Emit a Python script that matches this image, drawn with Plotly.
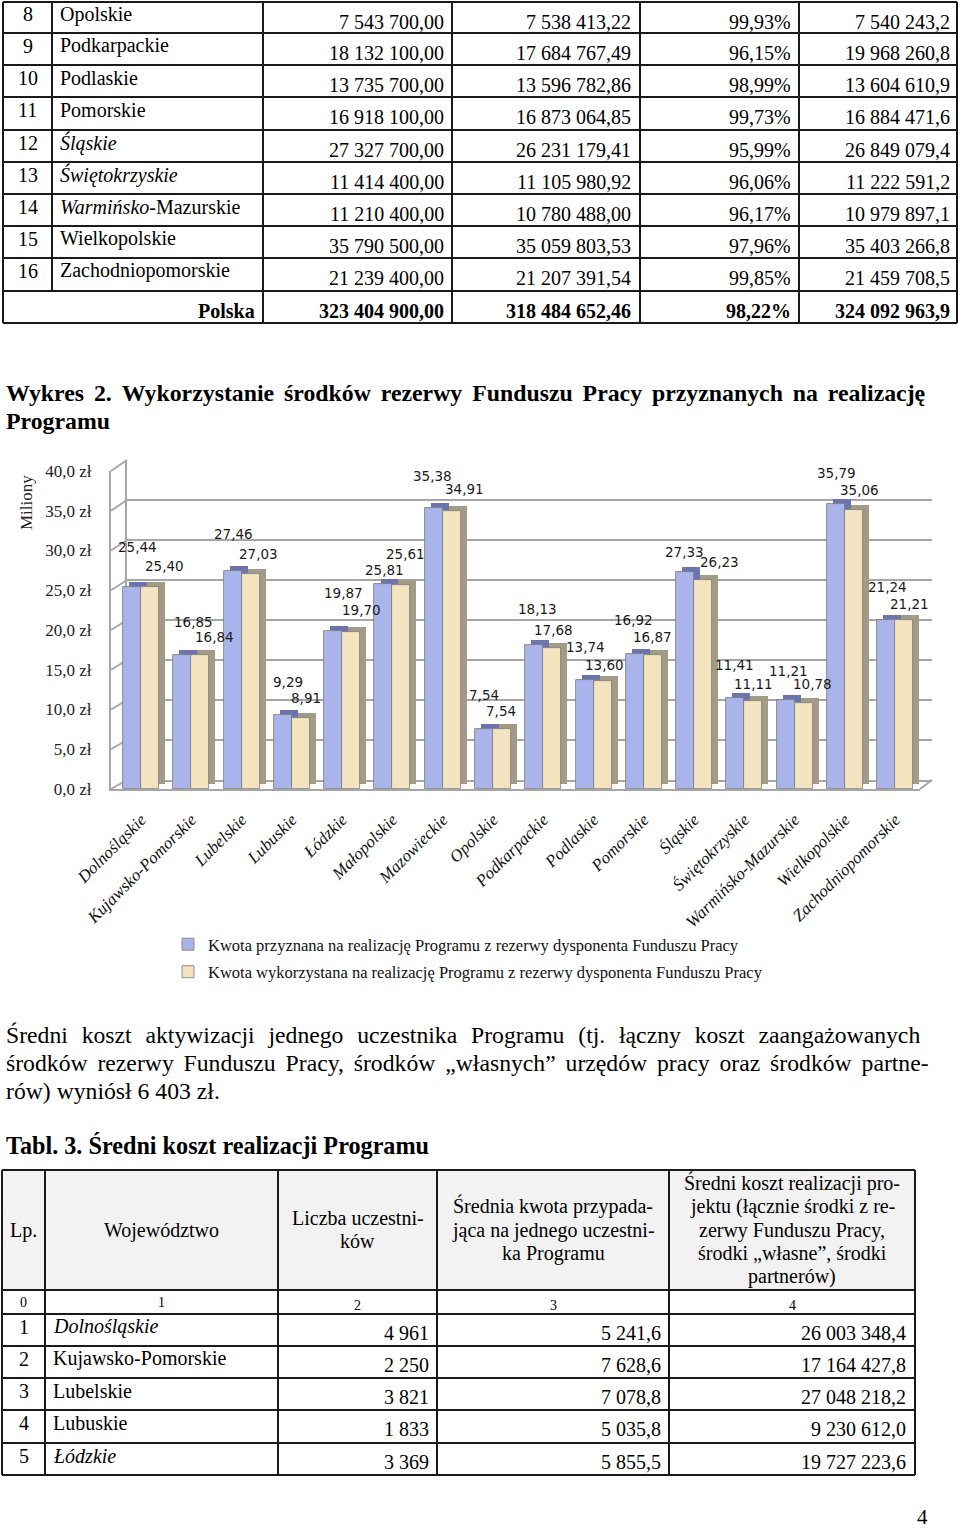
import plotly.graph_objects as go

W, H = 960, 1532
SERIF = "Liberation Serif"
SANS = "DejaVu Sans"

# ---------------- chart data (millions PLN) ----------------
REGIONS = ["Dolnośląskie", "Kujawsko-Pomorskie", "Lubelskie", "Lubuskie", "Łódzkie",
           "Małopolskie", "Mazowieckie", "Opolskie", "Podkarpackie", "Podlaskie",
           "Pomorskie", "Śląskie", "Świętokrzyskie", "Warmińsko-Mazurskie",
           "Wielkopolskie", "Zachodniopomorskie"]
GRANTED = [25.44, 16.85, 27.46, 9.29, 19.87, 25.81, 35.38, 7.54, 18.13, 13.74,
           16.92, 27.33, 11.41, 11.21, 35.79, 21.24]
USED = [25.40, 16.84, 27.03, 8.91, 19.70, 25.61, 34.91, 7.54, 17.68, 13.60,
        16.87, 26.23, 11.11, 10.78, 35.06, 21.21]
Y_TICKS = [0, 5, 10, 15, 20, 25, 30, 35, 40]
SERIES_NAMES = ["Kwota przyznana na realizację Programu z rezerwy dysponenta Funduszu Pracy",
                "Kwota wykorzystana na realizację Programu z rezerwy dysponenta Funduszu Pracy"]

# ---------------- upper table ----------------
TOP_LP = ["8", "9", "10", "11", "12", "13", "14", "15", "16"]
TOP_NAMES = ["Opolskie", "Podkarpackie", "Podlaskie", "Pomorskie", "Śląskie",
             "Świętokrzyskie", "Warmińsko-Mazurskie", "Wielkopolskie", "Zachodniopomorskie"]
TOP_GRANTED = ["7 543 700,00", "18 132 100,00", "13 735 700,00", "16 918 100,00",
               "27 327 700,00", "11 414 400,00", "11 210 400,00", "35 790 500,00",
               "21 239 400,00"]
TOP_USED = ["7 538 413,22", "17 684 767,49", "13 596 782,86", "16 873 064,85",
            "26 231 179,41", "11 105 980,92", "10 780 488,00", "35 059 803,53",
            "21 207 391,54"]
TOP_PCT = ["99,93%", "96,15%", "98,99%", "99,73%", "95,99%", "96,06%", "96,17%",
           "97,96%", "99,85%"]
TOP_TOTAL = ["7 540 243,2", "19 968 260,8", "13 604 610,9", "16 884 471,6",
             "26 849 079,4", "11 222 591,2", "10 979 897,1", "35 403 266,8",
             "21 459 708,5"]
TOP_SUM = ["Polska", "323 404 900,00", "318 484 652,46", "98,22%", "324 092 963,9"]

# ---------------- lower table ----------------
BOT_LP = ["1", "2", "3", "4", "5"]
BOT_NAMES = ["Dolnośląskie", "Kujawsko-Pomorskie", "Lubelskie", "Lubuskie", "Łódzkie"]
BOT_PART = ["4 961", "2 250", "3 821", "1 833", "3 369"]
BOT_AVG = ["5 241,6", "7 628,6", "7 078,8", "5 035,8", "5 855,5"]
BOT_COST = ["26 003 348,4", "17 164 427,8", "27 048 218,2", "9 230 612,0", "19 727 223,6"]
BOT_COLNUM = ["0", "1", "2", "3", "4"]

# ---------------- text ----------------
TITLE_LINES = ["Wykres 2. Wykorzystanie środków rezerwy Funduszu Pracy przyznanych na realizację",
               "Programu"]
PARA_LINES = ["Średni koszt aktywizacji jednego uczestnika Programu (tj. łączny koszt zaangażowanych",
              "środków rezerwy Funduszu Pracy, środków „własnych” urzędów pracy oraz środków partne-",
              "rów) wyniósł 6 403 zł."]
TABLE3_TITLE = "Tabl. 3. Średni koszt realizacji Programu"
PAGE_NUMBER = "4"

# ---------------- styles / layout helpers ----------------
ITALIC_MARKUP = {"Śląskie": "<i>Śląskie</i>", "Świętokrzyskie": "<i>Świętokrzyskie</i>",
                 "Warmińsko-Mazurskie": "<i>Warmińsko</i>-Mazurskie",
                 "Dolnośląskie": "<i>Dolnośląskie</i>", "Łódzkie": "<i>Łódzkie</i>"}
# extra inter-word spacing emulating the justified lines of the page
J1 = " \u2006"
J2 = " \u2006\u2006"
TITLE_GAPS = [J1, ""]
PARA_GAPS = [J2, J1, ""]

# data label offsets (px) relative to bar top / group center
BLUE_DX = [-4, 2, -8, -4, 1, -8, -10, -9, -6, -8, -10, -10, -10, -6, -8, -8]
BLUE_DY = [40, 33, 37, 33, 38, 14, 32, 34, 36, 33, 34, 20, 33, 29, 31, 33]
CREAM_DX = [23, 23, 17, 14, 19, 13, 22, 8, 10, 11, 9, 25, 9, 18, 15, 14]
CREAM_DY = [21, 18, 20, 20, 22, 31, 22, 18, 18, 16, 18, 18, 17, 19, 20, 16]

BAR_W = 0.358
DEPTH_DX = 0.12
DEPTH_DY = 0.63
GRID = "#a6a6a6"

annotations = []
shapes = []


def px(x):
    return x / W


def py(y):
    return 1 - y / H


def spaced(s, gap):
    return gap.join(s.split(" ")) if gap else s


def text(x, y, s, size=20, xanchor="left", family=SERIF, color="black"):
    annotations.append(dict(xref="paper", yref="paper", x=px(x), y=py(y), text=s,
                            showarrow=False, xanchor=xanchor, yanchor="middle",
                            borderpad=0,
                            font=dict(family=family, size=size, color=color)))


def line(x0, y0, x1, y1, color="#1a1a1a", width=2, layer="above"):
    shapes.append(dict(type="line", xref="paper", yref="paper", x0=px(x0), y0=py(y0),
                       x1=px(x1), y1=py(y1), line=dict(color=color, width=width),
                       layer=layer))


# ================= upper table =================
ROW_Y = [2, 33, 65, 97, 130, 162, 194, 226, 258, 291, 323]
COL_X = [3, 52, 263, 452, 640, 799, 957]
for y in ROW_Y:
    line(COL_X[0], y, COL_X[-1], y)
for i, x in enumerate(COL_X):
    line(x, ROW_Y[0], x, ROW_Y[-2] if i == 1 else ROW_Y[-1])
for r in range(len(TOP_LP)):
    t = ROW_Y[r]
    text(27.5, t + 12.5, TOP_LP[r], xanchor="center")
    text(59, t + 12.5, ITALIC_MARKUP.get(TOP_NAMES[r], TOP_NAMES[r]))
    for col, vals in zip([445, 632, 792, 951], [TOP_GRANTED, TOP_USED, TOP_PCT, TOP_TOTAL]):
        text(col, t + 19.5, vals[r], xanchor="right")
t = ROW_Y[-2]
for col, s in zip([256, 445, 632, 792, 951], TOP_SUM):
    text(col, t + 20, "<b>" + s + "</b>", xanchor="right")

# ================= titles / paragraph =================
for s, g, y in zip(TITLE_LINES, TITLE_GAPS, [393, 421]):
    text(5, y, "<b>" + spaced(s, g) + "</b>", size=23.8)
for s, g, y in zip(PARA_LINES, PARA_GAPS, [1035, 1063, 1091]):
    text(5, y, spaced(s, g), size=23.7)
text(5, 1145, "<b>" + TABLE3_TITLE + "</b>", size=24.2)
text(922, 1517, PAGE_NUMBER, size=21, xanchor="center")

# ================= lower table =================
COLB = [2, 45, 278, 437, 669, 915]
ROWB = [1170, 1290, 1314, 1346, 1378, 1410, 1443, 1475]
shapes.append(dict(type="rect", xref="paper", yref="paper", x0=px(COLB[0]), x1=px(COLB[-1]),
                   y0=py(ROWB[0]), y1=py(ROWB[1]), fillcolor="#f2f2f2", line=dict(width=0),
                   layer="below"))
for y in ROWB:
    line(COLB[0], y, COLB[-1], y)
for x in COLB:
    line(x, ROWB[0], x, ROWB[-1])
text(23.5, 1230, "Lp.", xanchor="center")
text(161.5, 1230, "Województwo", xanchor="center")
for s, y in zip(["Liczba uczestni-", "ków"], [1218, 1241]):
    text(357.5, y, s, xanchor="center")
for s, y in zip(["Średnia kwota przypada-", "jąca na jednego uczestni-", "ka Programu"],
                [1206, 1230, 1253]):
    text(553, y, s, xanchor="center")
for s, y in zip(["Średni koszt realizacji pro-", "jektu (łącznie środki z re-",
                 "zerwy Funduszu Pracy,", "środki „własne”, środki", "partnerów)"],
                [1183, 1206, 1230, 1253, 1276]):
    text(792, y, s, xanchor="center")
for s, x, y in zip(BOT_COLNUM, [23.5, 161.5, 357.5, 553, 792], [1302, 1302, 1305, 1305, 1305]):
    text(x, y, s, size=14, xanchor="center")
for r in range(len(BOT_LP)):
    t = ROWB[2 + r]
    text(23.5, t + 12.5, BOT_LP[r], xanchor="center")
    text(52, t + 12.5, ITALIC_MARKUP.get(BOT_NAMES[r], BOT_NAMES[r]))
    for col, vals in zip([430, 662, 907], [BOT_PART, BOT_AVG, BOT_COST]):
        text(col, t + 19, vals[r], xanchor="right")

# ================= chart =================
idx = list(range(len(REGIONS)))
y_ticktext = [f"{v:.1f}".replace(".", ",") + " zł" for v in Y_TICKS]

fig = go.Figure()
# back wall (grid only)
fig.add_trace(go.Scatter(x=[], y=[], xaxis="x", yaxis="y", showlegend=False, hoverinfo="skip"))
# depth (3-D sides) of bars
fig.add_trace(go.Bar(x=idx, y=GRANTED, base=DEPTH_DY, offset=-BAR_W + DEPTH_DX, width=BAR_W,
                     marker=dict(color="#6b74ad", line=dict(width=0)), xaxis="x2", yaxis="y2",
                     showlegend=False, hoverinfo="skip"))
fig.add_trace(go.Bar(x=idx, y=USED, base=DEPTH_DY, offset=DEPTH_DX, width=BAR_W,
                     marker=dict(color="#a39b86", line=dict(width=0)), xaxis="x2", yaxis="y2",
                     showlegend=False, hoverinfo="skip"))
# front faces
fig.add_trace(go.Bar(x=idx, y=GRANTED, offset=-BAR_W, width=BAR_W, name=SERIES_NAMES[0],
                     legendgroup="a",
                     marker=dict(color="#a9b4ea", line=dict(color="#7a7a7a", width=0.8)),
                     xaxis="x2", yaxis="y2"))
fig.add_trace(go.Bar(x=idx, y=USED, offset=0, width=BAR_W, name=SERIES_NAMES[1],
                     legendgroup="b",
                     marker=dict(color="#f3e4bf", line=dict(color="#7a7a7a", width=0.8)),
                     xaxis="x2", yaxis="y2"))

for i in idx:
    annotations.append(dict(xref="x2", yref="y2", x=i, y=GRANTED[i],
                            text=f"{GRANTED[i]:.2f}".replace(".", ","),
                            showarrow=False, xshift=BLUE_DX[i], yshift=BLUE_DY[i],
                            font=dict(family=SANS, size=13.5, color="#1a1a1a")))
    annotations.append(dict(xref="x2", yref="y2", x=i, y=USED[i],
                            text=f"{USED[i]:.2f}".replace(".", ","),
                            showarrow=False, xshift=CREAM_DX[i], yshift=CREAM_DY[i],
                            font=dict(family=SANS, size=13.5, color="#1a1a1a")))

# left wall / floor connectors
for v in Y_TICKS:
    line(111, 789 - 7.95 * v, 127, 780 - 8 * v, color=GRID, width=2, layer="below")
line(920, 789, 932, 780, color=GRID, width=2, layer="below")

annotations.append(dict(xref="paper", yref="paper", x=px(27), y=py(503), text="Miliony",
                        textangle=-90, showarrow=False, xanchor="center", yanchor="middle",
                        font=dict(family=SERIF, size=17, color="#222")))

fig.update_layout(
    width=W, height=H, margin=dict(l=0, r=0, t=0, b=0, pad=0, autoexpand=False),
    autosize=False,
    paper_bgcolor="white", plot_bgcolor="rgba(0,0,0,0)",
    separators=", ", barmode="overlay", bargap=0,
    xaxis=dict(domain=[px(127), px(932)], anchor="y", range=[0, 1], showline=True,
               linecolor=GRID, linewidth=2, showticklabels=False, showgrid=False,
               zeroline=False, ticks="", automargin=False),
    yaxis=dict(domain=[py(780), py(460)], anchor="x", range=[0, 40], tickvals=Y_TICKS,
               showgrid=True, gridcolor=GRID, gridwidth=2, showline=True, linecolor=GRID,
               linewidth=2, showticklabels=False, zeroline=False, ticks="", automargin=False),
    xaxis2=dict(domain=[px(111), px(920.2)], anchor="y2", range=[-0.6, 15.5],
                tickvals=idx, ticktext=REGIONS, tickangle=-45, showline=True,
                linecolor=GRID, linewidth=2, showgrid=False, zeroline=False, ticks="",
                ticklabelstandoff=12, automargin=False,
                tickfont=dict(family=SERIF, size=17, style="italic", color="#111")),
    yaxis2=dict(domain=[py(789), py(471)], anchor="x2", range=[0, 40], tickvals=Y_TICKS,
                ticktext=y_ticktext, showgrid=False, zeroline=False,
                showline=True, linecolor=GRID, linewidth=2, ticks="",
                ticklabelstandoff=14, automargin=False,
                tickfont=dict(family=SERIF, size=17, color="#222")),
    showlegend=True,
    legend=dict(x=px(168), y=py(927), xanchor="left", yanchor="top", orientation="v",
                font=dict(family=SERIF, size=16.5, color="#111"), tracegroupgap=3,
                bgcolor="rgba(0,0,0,0)", itemwidth=30),
    annotations=annotations,
    shapes=shapes,
    hovermode=False,
)

fig.write_html("out.html", config={"displayModeBar": False},
               post_script="document.body.style.margin='0px';")
